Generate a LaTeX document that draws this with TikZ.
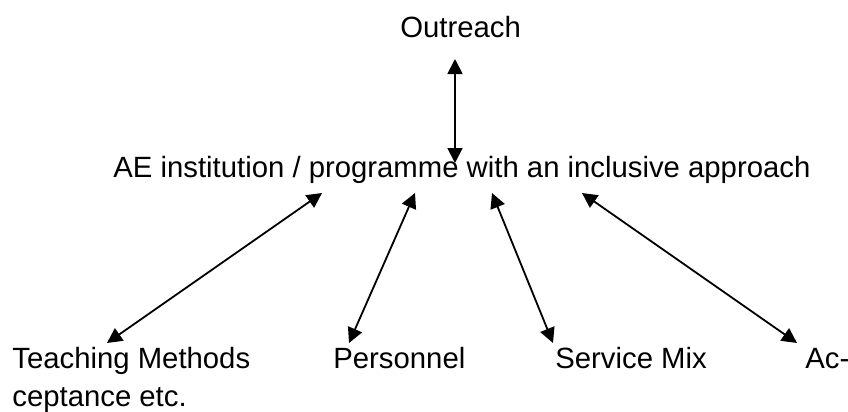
\documentclass[tikz,border=0pt]{standalone}
\usepackage{fontspec}
\setmainfont{Liberation Sans}
\usetikzlibrary{arrows.meta}
\begin{document}
\begin{tikzpicture}[x=0.5pt, y=-0.5pt, font=\fontsize{14.65pt}{17pt}\selectfont]
\useasboundingbox (0,0) rectangle (848,412);
\tikzset{lbl/.style={anchor=base west, inner sep=0pt},
  link/.style={{Triangle[length=7.5pt,width=7.5pt]}-{Triangle[length=7.5pt,width=7.5pt]}, line width=0.9pt}}
\node[lbl] (outreach) at (400,38){Outreach};
\node[lbl] (inst) at (113,177){AE institution / programme with an inclusive approach};
\node[lbl] (teach) at (12,368){Teaching Methods};
\node[lbl] (pers) at (333,368){Personnel};
\node[lbl] (smix) at (555,368){Service Mix};
\node[lbl] (acc) at (805,368){Ac-};
\node[lbl] (acc2) at (12,406){ceptance etc.};
\coordinate (o1) at (455,59);
\coordinate (o2) at (455,163);
\coordinate (t1) at (322,193);
\coordinate (t2) at (107,343);
\coordinate (p1) at (415,193);
\coordinate (p2) at (349,343);
\coordinate (s1) at (492,193);
\coordinate (s2) at (553,343);
\coordinate (a1) at (582,193);
\coordinate (a2) at (797,343);
\draw[link](o1) -- (o2);
\draw[link](t1) -- (t2);
\draw[link](p1) -- (p2);
\draw[link](s1) -- (s2);
\draw[link](a1) -- (a2);
\end{tikzpicture}
\end{document}
